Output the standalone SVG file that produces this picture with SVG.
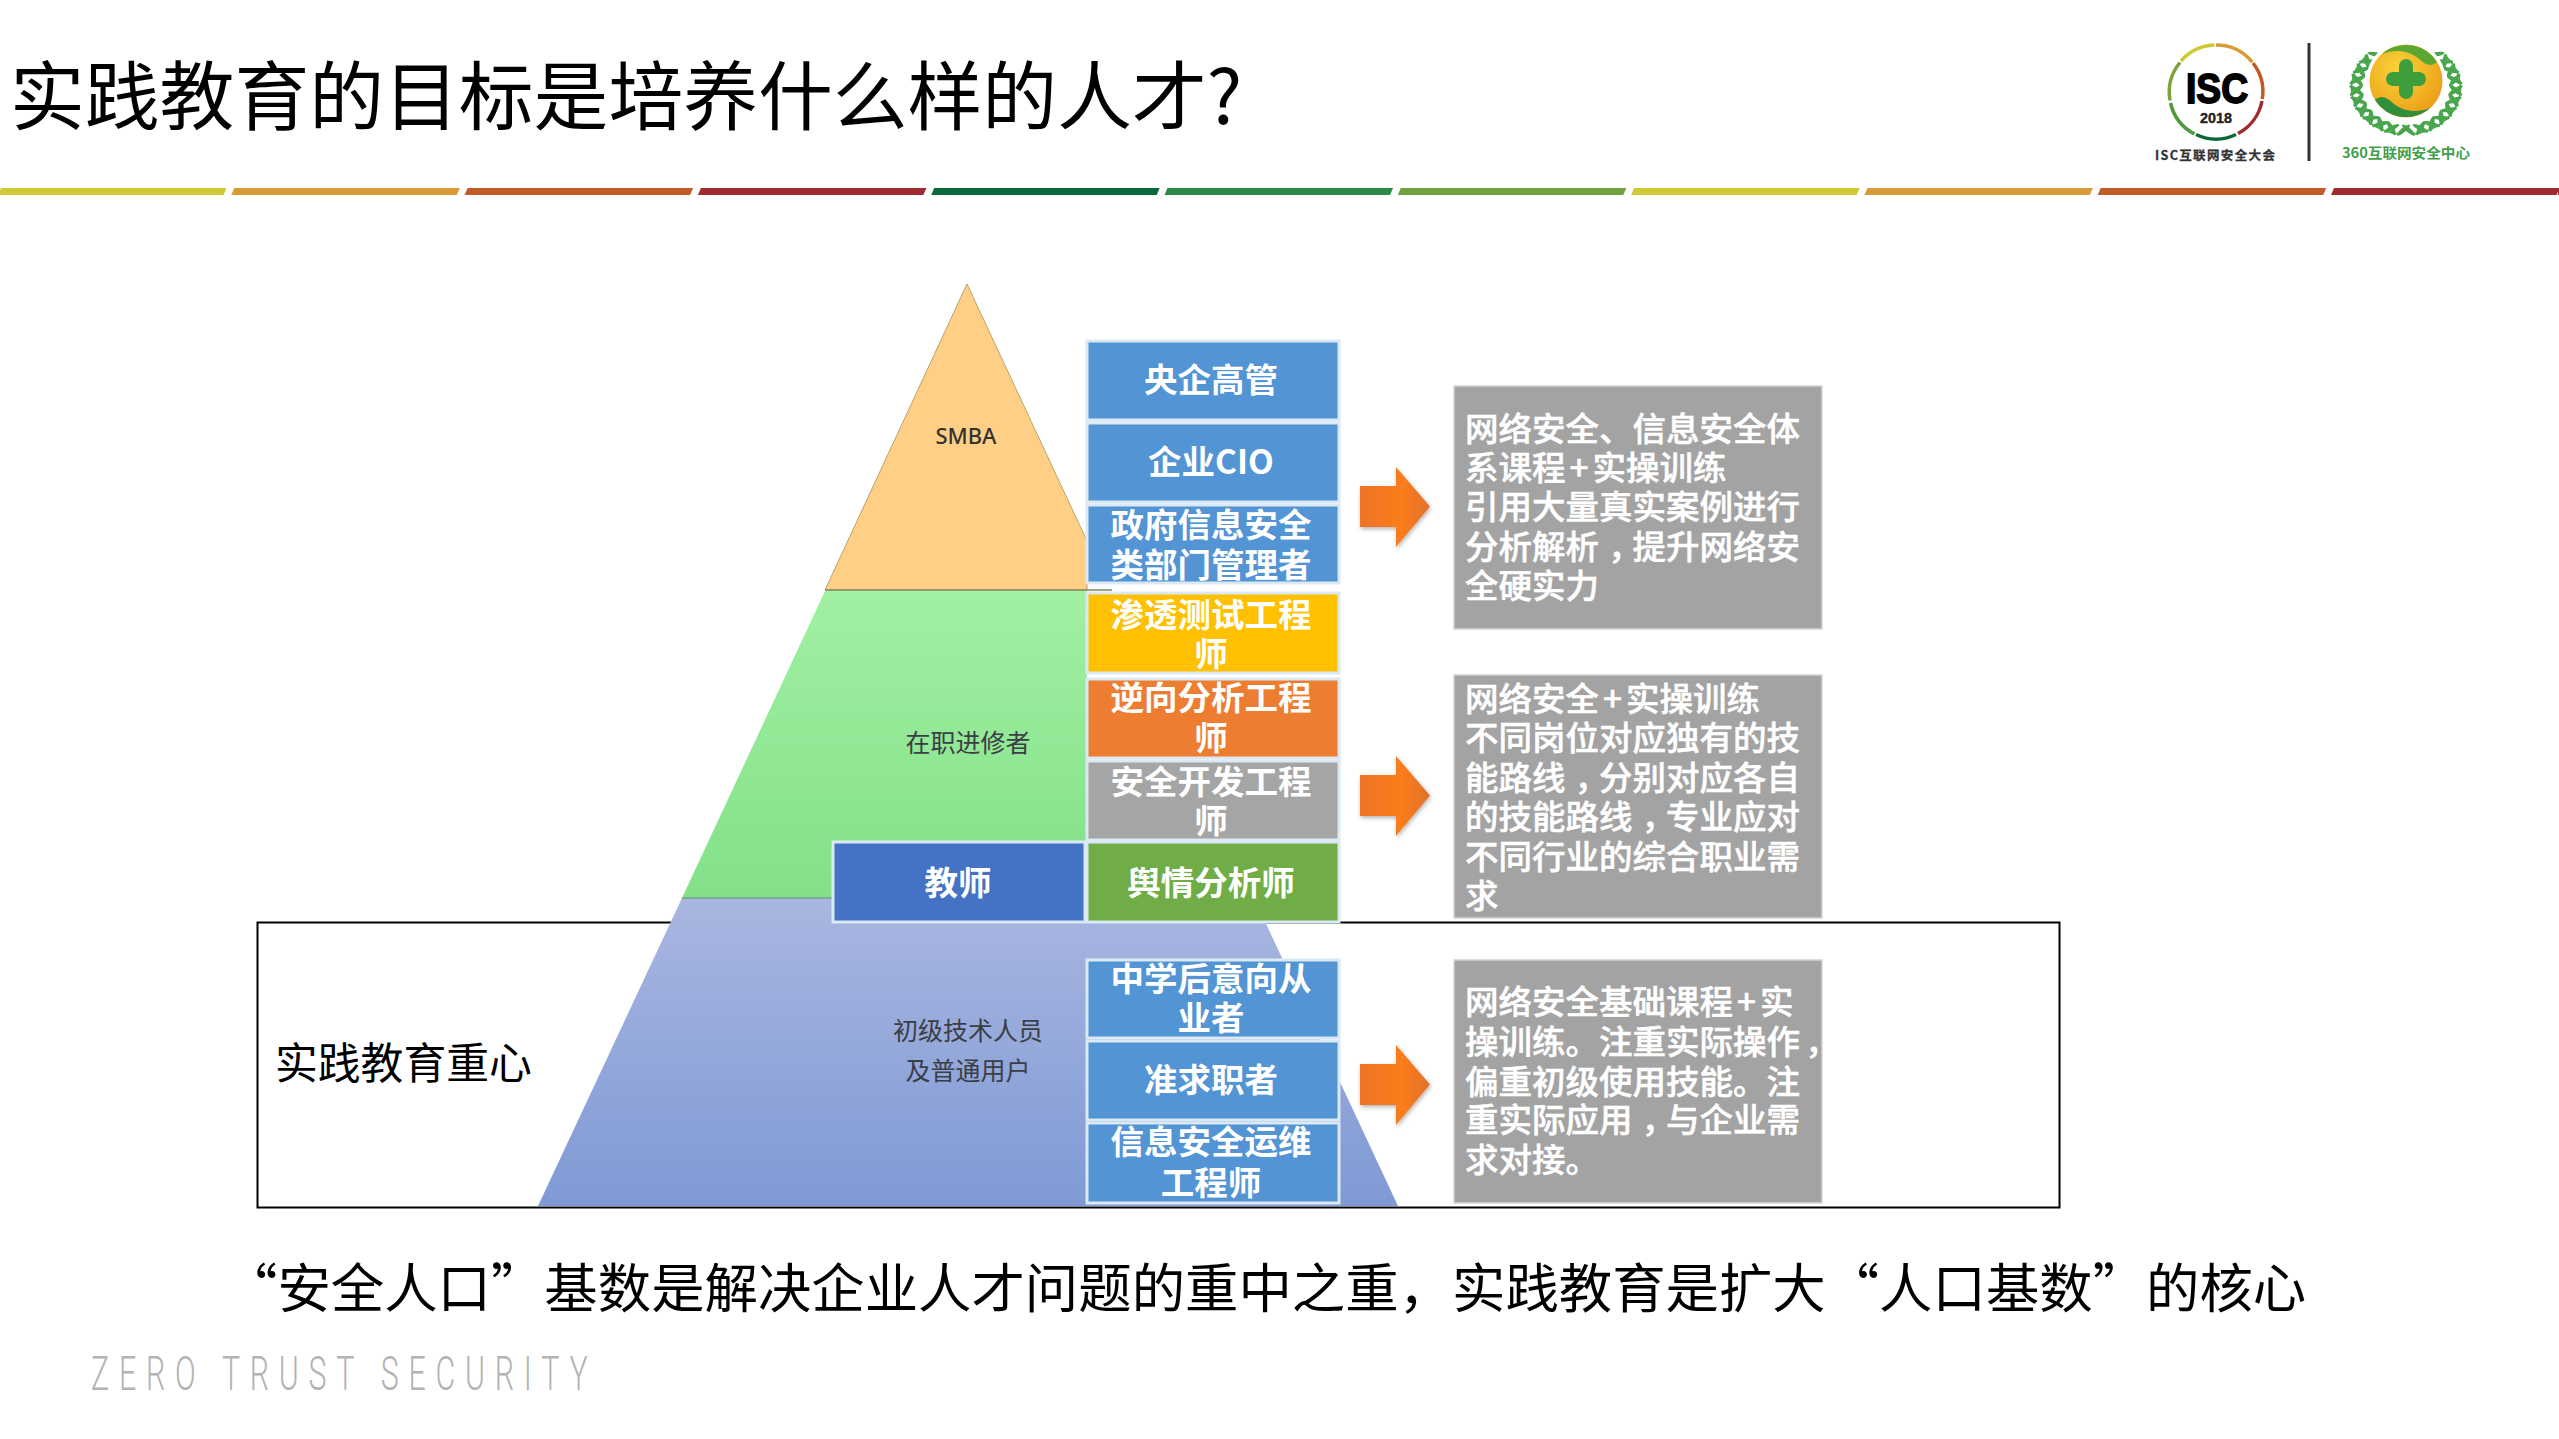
<svg xmlns="http://www.w3.org/2000/svg" width="2559" height="1439" viewBox="0 0 2559 1439">
<style>
text{font-family:"Noto Sans CJK SC","Noto Sans",sans-serif}
.box{stroke:#dbe9f4;stroke-width:3}
.bt{fill:#fff;font-size:33.5px;font-weight:700;text-anchor:middle}
.gray{fill:#a3a3a3;stroke:#d4d4d4;stroke-width:1.5}
.gt{fill:#fff;stroke:#fff;stroke-width:.5px;font-size:33.5px;font-weight:500}
.tier{font-size:25px;fill:#3a3f46;text-anchor:middle}
.blue{fill:#5294d4}
</style>
<defs>
<linearGradient id="gMid" x1="0" y1="0" x2="0" y2="1"><stop offset="0" stop-color="#a1f0a3"/><stop offset="1" stop-color="#83e088"/></linearGradient>
<linearGradient id="gLow" x1="0" y1="0" x2="0" y2="1"><stop offset="0" stop-color="#a9b6e0"/><stop offset="1" stop-color="#7f9ad5"/></linearGradient>
<linearGradient id="gArrow" x1="0" y1="0" x2="1" y2="0"><stop offset="0" stop-color="#ee7426"/><stop offset=".6" stop-color="#fb7d1c"/><stop offset="1" stop-color="#e2702c"/></linearGradient>
<radialGradient id="gBall" cx=".4" cy=".35" r=".75"><stop offset="0" stop-color="#f8d63a"/><stop offset=".7" stop-color="#efaa1e"/><stop offset="1" stop-color="#e8981c"/></radialGradient>
<filter id="sh" x="-20%" y="-20%" width="150%" height="150%"><feDropShadow dx="1" dy="2" stdDeviation="2" flood-color="#000" flood-opacity=".3"/></filter>
<polygon id="bar" points="1,188 226.500,188 223.500,195 -2,195"/>
<path id="arrow" d="M0 19H36V0L70 39.500L36 80V60H0Z" fill="url(#gArrow)" filter="url(#sh)"/>
<g id="leaf" fill="#4aa64c"><ellipse cx="-5.500" cy="-5" rx="8" ry="2.300" transform="rotate(55 -5.500 -5)"/><ellipse cx="5.500" cy="-5" rx="8" ry="2.300" transform="rotate(-55 5.500 -5)"/></g>
<g id="branch">
<use href="#leaf" transform="rotate(100) translate(49 0) rotate(-90)"/>
<use href="#leaf" transform="rotate(114) translate(49 0) rotate(-90)"/>
<use href="#leaf" transform="rotate(128) translate(49 0) rotate(-90)"/>
<use href="#leaf" transform="rotate(142) translate(49 0) rotate(-90)"/>
<use href="#leaf" transform="rotate(156) translate(49 0) rotate(-90)"/>
<use href="#leaf" transform="rotate(170) translate(49 0) rotate(-90)"/>
<use href="#leaf" transform="rotate(184) translate(49 0) rotate(-90)"/>
<use href="#leaf" transform="rotate(198) translate(49 0) rotate(-90)"/>
<use href="#leaf" transform="rotate(212) translate(49 0) rotate(-90)"/>
<use href="#leaf" transform="rotate(226) translate(49 0) rotate(-90)"/>
<path d="M-6 48.500A49 49 0 0 1 -34 -35" fill="none" stroke="#4aa64c" stroke-width="1.500"/>
</g>
</defs>

<g id="title"><text x="10" y="124" font-size="74.800" fill="#000">实践教育的目标是培养什么样的人才?</text></g>

<g id="colour-bar">
<use href="#bar" fill="#cfc936"/>
<use href="#bar" x="233.300" fill="#d99b38"/>
<use href="#bar" x="466.600" fill="#c05a26"/>
<use href="#bar" x="699.900" fill="#9d2b30"/>
<use href="#bar" x="933.200" fill="#0a693b"/>
<use href="#bar" x="1166.500" fill="#2b8a45"/>
<use href="#bar" x="1399.800" fill="#6fa23c"/>
<use href="#bar" x="1633.100" fill="#cfc936"/>
<use href="#bar" x="1866.400" fill="#d99b38"/>
<use href="#bar" x="2099.700" fill="#c05a26"/>
<use href="#bar" x="2333" fill="#9d2b30"/>
<rect x="2558" y="188" width="1" height="7" fill="#9d2b30"/>
</g>

<g id="logo-isc" fill="none" stroke-width="3.500">
<path d="M2216 45A47 47 0 0 1 2252.300 62.100" stroke="#d99b38"/>
<path d="M2253 63A47 47 0 0 1 2262.300 99" stroke="#c05a26"/>
<path d="M2262 101A47 47 0 0 1 2238 133.500" stroke="#9d2b30"/>
<path d="M2236 134.500A47 47 0 0 1 2196 134.500" stroke="#0a693b"/>
<path d="M2194.500 134A47 47 0 0 1 2170.500 103" stroke="#4f9a3c"/>
<path d="M2170 100.500A47 47 0 0 1 2180 62.500" stroke="#7ba23b"/>
<path d="M2181 61A47 47 0 0 1 2214.500 45" stroke="#cfc936"/>
<text x="2186" y="103" font-size="43" font-weight="700" fill="#000" stroke="#000" stroke-width="1.800" textLength="62" lengthAdjust="spacingAndGlyphs" style="font-family:'Liberation Sans',sans-serif">ISC</text>
<text x="2200" y="123" font-size="15.500" font-weight="700" fill="#222" stroke="#222" stroke-width=".4" textLength="32" lengthAdjust="spacingAndGlyphs" style="font-family:'Liberation Sans',sans-serif">2018</text>
<text x="2155" y="160" font-size="12.500" font-weight="700" fill="#333" stroke="#333" stroke-width=".3" textLength="120">ISC互联网安全大会</text>
</g>
<line id="logo-divider" x1="2309" y1="43" x2="2309" y2="161" stroke="#333" stroke-width="3"/>
<g id="logo-360">
<g transform="translate(2406 88) scale(1.12 .95)">
<use href="#branch"/>
<use href="#branch" transform="scale(-1 1)"/>
</g>
<circle cx="2406" cy="81" r="40" fill="#fff"/>
<circle cx="2406" cy="81" r="36.500" fill="url(#gBall)"/>
<path d="M2382 54A36.500 36.500 0 0 1 2437 62C2430 68 2425 64 2418 58 2408 50 2394 49 2382 54Z" fill="#5aa832"/>
<path d="M2430 108A36.500 36.500 0 0 1 2375 100C2382 94 2387 98 2394 104 2404 112 2418 113 2430 108Z" fill="#2f8f3a"/>
<path d="M2393 79H2419M2406 66V92" stroke="#3f9e3c" stroke-width="14" stroke-linecap="round" fill="none"/>
<text x="2342" y="158" font-size="14" font-weight="700" fill="#3f9f4a" textLength="128" lengthAdjust="spacingAndGlyphs">360互联网安全中心</text>
</g>

<g id="focus-frame">
<rect x="257.500" y="922.500" width="1802" height="285" fill="#fff" stroke="#000" stroke-width="2"/>
<text x="275" y="1079" font-size="42.800" fill="#000">实践教育重心</text>
</g>

<g id="pyramid">
<g id="tier-top">
<polygon points="967,284 1087,541 1087,590 825,590" fill="#ffcf85" stroke="#b8a36a" stroke-width="1"/>
<line x1="825" y1="590" x2="1112" y2="590" stroke="#7d8a5a" stroke-width="1.500"/>
<text x="966" y="444" font-size="22" font-weight="500" fill="#33332e" text-anchor="middle" style="font-family:'Noto Sans',sans-serif">SMBA</text>
</g>
<g id="tier-middle">
<polygon points="825,591 1087,591 1087,898 682,898" fill="url(#gMid)"/>
<text class="tier" x="968" y="752">在职进修者</text>
</g>
<g id="tier-bottom">
<polygon points="682,898 1254,898 1398,1206 538,1206" fill="url(#gLow)"/>
<line x1="682" y1="898" x2="835" y2="898" stroke="#6fa58a" stroke-width="1.500"/>
<text class="tier" x="968" y="1040">初级技术人员</text>
<text class="tier" x="968" y="1080">及普通用户</text>
</g>
</g>

<g id="n-yangqi"><rect class="box blue" x="1087" y="341" width="252" height="79"/><text class="bt" x="1211" y="392">央企高管</text></g>
<g id="n-cio"><rect class="box blue" x="1087" y="423" width="252" height="79"/><text class="bt" x="1211" y="474">企业CIO</text></g>
<g id="n-gov"><rect class="box blue" x="1087" y="505" width="252" height="78"/><text class="bt" x="1211" y="537">政府信息安全</text><text class="bt" x="1211" y="577">类部门管理者</text></g>
<g id="n-pentest"><rect class="box" fill="#ffc000" x="1087" y="593" width="252" height="80"/><text class="bt" x="1211" y="627">渗透测试工程</text><text class="bt" x="1211" y="666">师</text></g>
<g id="n-reverse"><rect class="box" fill="#ed7d31" x="1087" y="679" width="252" height="79"/><text class="bt" x="1211" y="710">逆向分析工程</text><text class="bt" x="1211" y="750">师</text></g>
<g id="n-dev"><rect class="box" fill="#a5a5a5" x="1087" y="761" width="252" height="79"/><text class="bt" x="1211" y="794">安全开发工程</text><text class="bt" x="1211" y="833">师</text></g>
<g id="n-teacher"><rect class="box" fill="#4472c4" x="833" y="842" width="252" height="80"/><text class="bt" x="958" y="895">教师</text></g>
<g id="n-opinion"><rect class="box" fill="#70ad47" x="1087" y="842" width="252" height="80"/><text class="bt" x="1211" y="895">舆情分析师</text></g>
<g id="n-intent"><rect class="box blue" x="1087" y="960" width="252" height="78"/><text class="bt" x="1211" y="991">中学后意向从</text><text class="bt" x="1211" y="1030">业者</text></g>
<g id="n-seeker"><rect class="box blue" x="1087" y="1041" width="252" height="79"/><text class="bt" x="1211" y="1092">准求职者</text></g>
<g id="n-ops"><rect class="box blue" x="1087" y="1123" width="252" height="80"/><text class="bt" x="1211" y="1154">信息安全运维</text><text class="bt" x="1211" y="1195">工程师</text></g>

<g id="connectors">
<use href="#arrow" x="1360" y="467"/>
<use href="#arrow" x="1360" y="756"/>
<use href="#arrow" x="1360" y="1045"/>
</g>

<g id="n-desc-1">
<rect class="gray" x="1454" y="386" width="368" height="243"/>
<text class="gt" x="1465" y="441">网络安全、信息安全体</text>
<text class="gt" x="1465" y="480">系课程<tspan dx="4">+</tspan><tspan dx="4">实操训练</tspan></text>
<text class="gt" x="1465" y="519">引用大量真实案例进行</text>
<text class="gt" x="1465" y="559">分析解析<tspan dx="9">，</tspan><tspan dx="-9">提升网络安</tspan></text>
<text class="gt" x="1465" y="598">全硬实力</text>
</g>
<g id="n-desc-2">
<rect class="gray" x="1454" y="675" width="368" height="243"/>
<text class="gt" x="1465" y="711">网络安全<tspan dx="4">+</tspan><tspan dx="4">实操训练</tspan></text>
<text class="gt" x="1465" y="750">不同岗位对应独有的技</text>
<text class="gt" x="1465" y="790">能路线<tspan dx="9">，</tspan><tspan dx="-9">分别对应各自</tspan></text>
<text class="gt" x="1465" y="829">的技能路线<tspan dx="9">，</tspan><tspan dx="-9">专业应对</tspan></text>
<text class="gt" x="1465" y="869">不同行业的综合职业需</text>
<text class="gt" x="1465" y="908">求</text>
</g>
<g id="n-desc-3">
<rect class="gray" x="1454" y="960" width="368" height="243"/>
<text class="gt" x="1465" y="1014">网络安全基础课程<tspan dx="4">+</tspan><tspan dx="4">实</tspan></text>
<text class="gt" x="1465" y="1054">操训练。注重实际操作<tspan dx="5">，</tspan></text>
<text class="gt" x="1465" y="1094">偏重初级使用技能。注</text>
<text class="gt" x="1465" y="1132">重实际应用<tspan dx="9">，</tspan><tspan dx="-9">与企业需</tspan></text>
<text class="gt" x="1465" y="1172">求对接。</text>
</g>

<g id="caption"><text x="224" y="1308" font-size="53.400" fill="#000">“安全人口”基数是解决企业人才问题的重中之重，实践教育是扩大“人口基数”的核心</text></g>
<g id="footer"><text transform="translate(91 1390) scale(.62 1)" x="0" y="0" font-size="49" font-weight="300" fill="#b3b3b3" textLength="801" style="font-family:Roboto,sans-serif">ZERO TRUST SECURITY</text></g>
</svg>
